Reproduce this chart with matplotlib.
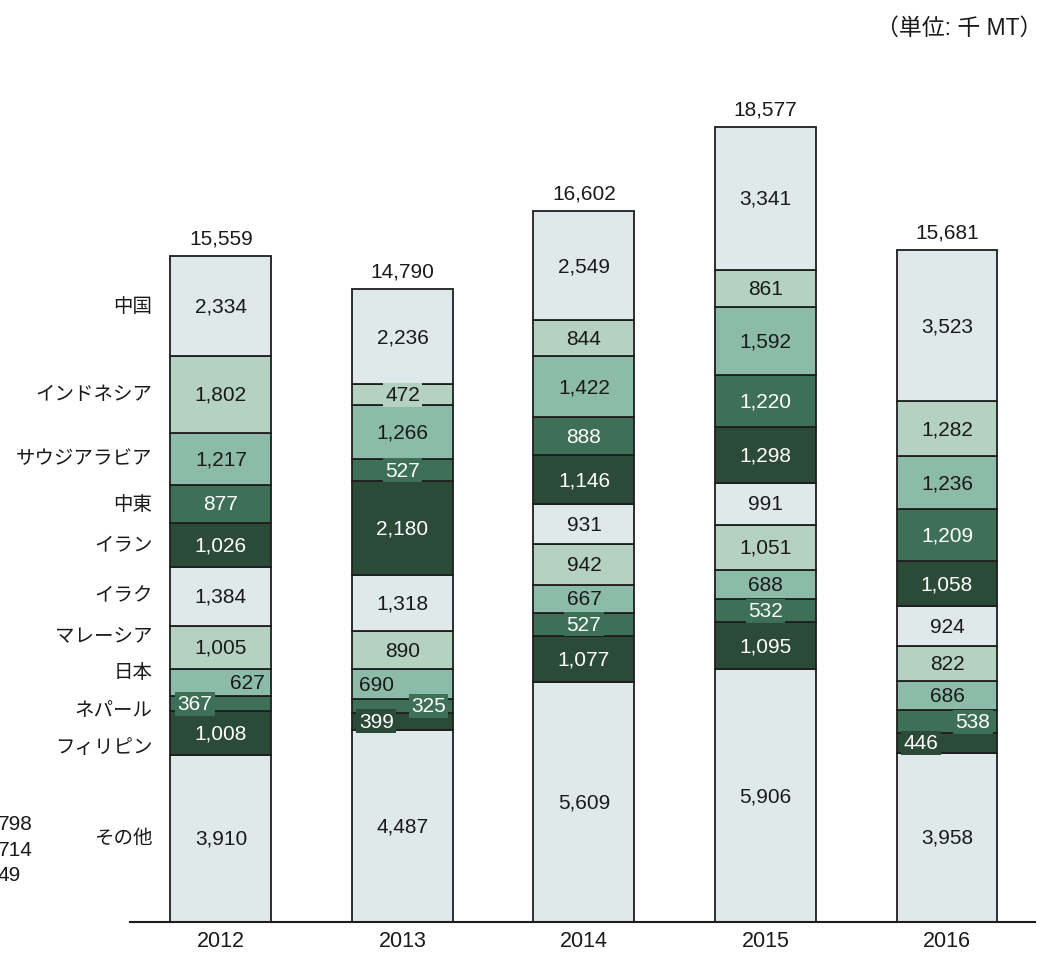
import matplotlib
matplotlib.use("Agg")
import matplotlib.pyplot as plt

plt.rcParams['font.family'] = ['Liberation Sans', 'Noto Sans CJK JP', 'DejaVu Sans']

# 輸入量（千 MT）、積み上げは下から順
years = ['2012', '2013', '2014', '2015', '2016']
categories = ['その他', 'フィリピン', 'ネパール', '日本', 'マレーシア', 'イラク',
              'イラン', '中東', 'サウジアラビア', 'インドネシア', '中国']
v2012 = [3910, 1008, 367, 627, 1005, 1384, 1026, 877, 1217, 1802, 2334]
v2013 = [4487, 399, 325, 690, 890, 1318, 2180, 527, 1266, 472, 2236]
v2014 = [5609, 1077, 527, 667, 942, 931, 1146, 888, 1422, 844, 2549]
v2015 = [5906, 1095, 532, 688, 1051, 991, 1298, 1220, 1592, 861, 3341]
v2016 = [3958, 446, 538, 686, 822, 924, 1058, 1209, 1236, 1282, 3523]
totals = [15559, 14790, 16602, 18577, 15681]
series = [v2012, v2013, v2014, v2015, v2016]

# 左端の切れた数値
stray_labels = ['798', '714', '49']

# 色は下から 5 段で繰り返し
shades = ['#dfe9e9', '#2c4a38', '#3e6f57', '#8dbba9', '#b4d1c1']
dark_shades = {1, 2}

# 小さい区間のラベル位置 (年, 区間) -> 寄せ方
label_side = {(0, 2): 'left', (0, 3): 'right',
              (1, 1): 'left', (1, 2): 'right', (1, 3): 'left',
              (4, 1): 'left', (4, 2): 'right'}
# 左の国名ラベルの上下補正（pt）
name_nudge = {1: -10, 2: -5, 3: 7, 4: 8}

bar_w = 0.556

fig = plt.figure(figsize=(10.5, 9.54), dpi=100)
ax = fig.add_axes([130 / 1050, 31 / 954, 905 / 1050, 850 / 954])
ax.set_xlim(-0.501, 4.485)
ax.set_ylim(0, 19850)

for xi, vals in enumerate(series):
    bottom = 0
    for si, v in enumerate(vals):
        shade = si % 5
        col = shades[shade]
        ax.bar(xi, v, bottom=bottom, width=bar_w, color=col,
               edgecolor='#1e1e1e', linewidth=1.3, zorder=2)
        tc = 'white' if shade in dark_shades else '#1a1a1a'
        side = label_side.get((xi, si), 'center')
        if side == 'left':
            x, dx = xi - bar_w / 2, 5
        elif side == 'right':
            x, dx = xi + bar_w / 2, -5
        else:
            x, dx = xi, 0
        box = None
        if v < 560:
            box = dict(boxstyle='square,pad=0.12', facecolor=col, edgecolor='none')
        ax.annotate(f'{v:,}', (x, bottom + v / 2), xytext=(dx, 0),
                    textcoords='offset points', ha=side, va='center',
                    fontsize=15, color=tc, bbox=box, zorder=4)
        bottom += v
    ax.annotate(f'{totals[xi]:,}', (xi, bottom), xytext=(0, 13),
                textcoords='offset points', ha='center', va='center',
                fontsize=15, color='#1a1a1a')

# 国名ラベル（2012年の区間に合わせる）
bottom = 0
for si, (name, v) in enumerate(zip(categories, v2012)):
    ax.annotate(name, (-bar_w / 2, bottom + v / 2),
                xytext=(-13, name_nudge.get(si, 0)), textcoords='offset points',
                ha='right', va='center', fontsize=14, color='#1a1a1a')
    bottom += v

for s in ['top', 'right', 'left']:
    ax.spines[s].set_visible(False)
ax.spines['bottom'].set_linewidth(1.5)
ax.spines['bottom'].set_color('#1e1e1e')
ax.set_yticks([])
ax.set_xticks(range(len(years)))
ax.set_xticklabels(years, fontsize=15.5, color='#1a1a1a')
ax.tick_params(axis='x', length=0, pad=6)

fig.text(1042 / 1050, 1 - 28 / 954, '（単位: 千 MT）', ha='right', va='center',
         fontsize=16.5, color='#1a1a1a')

for i, t in enumerate(stray_labels):
    fig.text(-2 / 1050, 1 - (825 + 25.5 * i) / 954, t, ha='left', va='center',
             fontsize=15, color='#1a1a1a')

fig.savefig('out.png', dpi=100)
